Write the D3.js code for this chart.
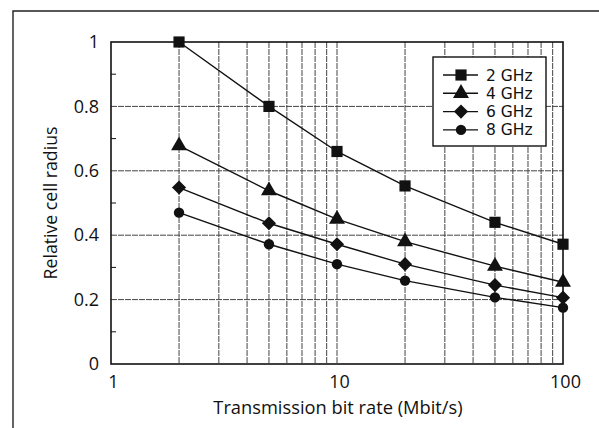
<!DOCTYPE html>
<html>
<head>
<meta charset="utf-8">
<script src="https://cdn.jsdelivr.net/npm/d3@7"></script>
<style>
  body { margin: 0; background: #fff; }
  text { font-family: "Open Sans", "Noto Sans", sans-serif; fill: #111; }
</style>
</head>
<body>
<div id="chartContainer"></div>
<script>
var rates   = [2, 5, 10, 20, 50, 100];
var series  = ["2 GHz", "4 GHz", "6 GHz", "8 GHz"];
var ghz2    = [1.0, 0.80, 0.66, 0.553, 0.44, 0.372];
var ghz4    = [0.678, 0.538, 0.45, 0.38, 0.304, 0.254];
var ghz6    = [0.548, 0.437, 0.372, 0.31, 0.245, 0.206];
var ghz8    = [0.47, 0.372, 0.31, 0.259, 0.207, 0.175];
var yTicks  = [0, 0.2, 0.4, 0.6, 0.8, 1];
var xTicks  = [1, 10, 100];

var allValues = [ghz2, ghz4, ghz6, ghz8];
var shapes = [d3.symbolSquare, d3.symbolTriangle, "diamond", d3.symbolCircle];
var sizes  = [125, 110, 100, 85];

var width = 599, height = 428;
var margin = {top: 42, right: 36, bottom: 64, left: 111};
var w = width - margin.left - margin.right,
    h = height - margin.top - margin.bottom;

var svg = d3.select("#chartContainer")
  .append("svg")
    .attr("width", width)
    .attr("height", height);

// outer frame (top and left only, as in the scan)
svg.append("path")
  .attr("d", "M13," + height + "V11H" + width)
  .attr("fill", "none")
  .attr("stroke", "#222")
  .attr("stroke-width", 1.4);

var g = svg.append("g")
  .attr("transform", "translate(" + margin.left + "," + margin.top + ")");

var x = d3.scaleLog().domain([1, 100]).range([0, w]);
var y = d3.scaleLinear().domain([0, 1]).range([h, 0]);

// vertical grid at each log tick
var minor = x.ticks().filter(function(d) { return d > 1 && d < 100; });
g.selectAll(".vgrid")
  .data(minor)
  .enter().append("line")
    .attr("x1", function(d) { return x(d); })
    .attr("x2", function(d) { return x(d); })
    .attr("y1", 0).attr("y2", h)
    .attr("stroke", "#444")
    .attr("stroke-width", 1)
    .attr("stroke-dasharray", "6,1");

// horizontal grid
g.selectAll(".hgrid")
  .data(yTicks.filter(function(d) { return d > 0 && d < 1; }))
  .enter().append("line")
    .attr("x1", 0).attr("x2", w)
    .attr("y1", function(d) { return y(d); })
    .attr("y2", function(d) { return y(d); })
    .attr("stroke", "#444")
    .attr("stroke-width", 1)
    .attr("stroke-dasharray", "6,1");

// minor y ticks pointing inward
g.selectAll(".ytick")
  .data(d3.range(0.1, 1, 0.2))
  .enter().append("line")
    .attr("x1", 0).attr("x2", 5)
    .attr("y1", function(d) { return y(d); })
    .attr("y2", function(d) { return y(d); })
    .attr("stroke", "#111");

// plot frame
g.append("rect")
  .attr("width", w).attr("height", h)
  .attr("fill", "none")
  .attr("stroke", "#111")
  .attr("stroke-width", 1.6);

// axes
var yAxis = g.append("g")
  .call(d3.axisLeft(y).tickValues(yTicks).tickSize(0).tickPadding(12)
    .tickFormat(function(d) { return d === 0 || d === 1 ? d : d3.format(".1f")(d); }));
yAxis.select(".domain").remove();
yAxis.selectAll("text").style("font-size", "18px");

var xAxis = g.append("g")
  .attr("transform", "translate(2," + h + ")")
  .call(d3.axisBottom(x).tickValues(xTicks).tickSize(0).tickPadding(11)
    .tickFormat(d3.format("d")));
xAxis.select(".domain").remove();
xAxis.selectAll("text").style("font-size", "18px");

// axis titles
svg.append("text")
  .attr("x", 338)
  .attr("y", 414)
  .attr("text-anchor", "middle")
  .style("font-size", "18.3px")
  .text("Transmission bit rate (Mbit/s)");

svg.append("text")
  .attr("transform", "translate(57,203) rotate(-90)")
  .attr("text-anchor", "middle")
  .style("font-size", "17.7px")
  .text("Relative cell radius");

function symbolPath(i, s) {
  if (shapes[i] === "diamond") {
    return d3.symbol().type(d3.symbolSquare).size(s)();
  }
  return d3.symbol().type(shapes[i]).size(s)();
}
function symbolRot(i) { return shapes[i] === "diamond" ? " rotate(45)" : ""; }

var line = d3.line()
  .x(function(d, i) { return x(rates[i]); })
  .y(function(d) { return y(d); });

allValues.forEach(function(vals, i) {
  g.append("path")
    .datum(vals)
    .attr("fill", "none")
    .attr("stroke", "#111")
    .attr("stroke-width", 1.4)
    .attr("d", line);
  g.selectAll(".m" + i)
    .data(vals)
    .enter().append("path")
      .attr("d", symbolPath(i, sizes[i]))
      .attr("transform", function(d, j) {
        return "translate(" + x(rates[j]) + "," + y(d) + ")" + symbolRot(i);
      })
      .attr("fill", "#111");
});

// legend
var lg = svg.append("g").attr("transform", "translate(433,57)");
lg.append("rect")
  .attr("width", 113).attr("height", 89)
  .attr("fill", "#fff")
  .attr("stroke", "#111")
  .attr("stroke-width", 1.4);
series.forEach(function(name, i) {
  var yy = 18 + i * 18.3;
  lg.append("line")
    .attr("x1", 10).attr("x2", 45)
    .attr("y1", yy).attr("y2", yy)
    .attr("stroke", "#111").attr("stroke-width", 1.4);
  lg.append("path")
    .attr("d", symbolPath(i, sizes[i]))
    .attr("transform", "translate(28," + yy + ")" + symbolRot(i))
    .attr("fill", "#111");
  lg.append("text")
    .attr("x", 53).attr("y", yy)
    .attr("dy", "0.36em")
    .style("font-family", "'DejaVu Sans', sans-serif")
    .style("font-size", "15.5px")
    .text(name);
});
</script>
</body>
</html>
